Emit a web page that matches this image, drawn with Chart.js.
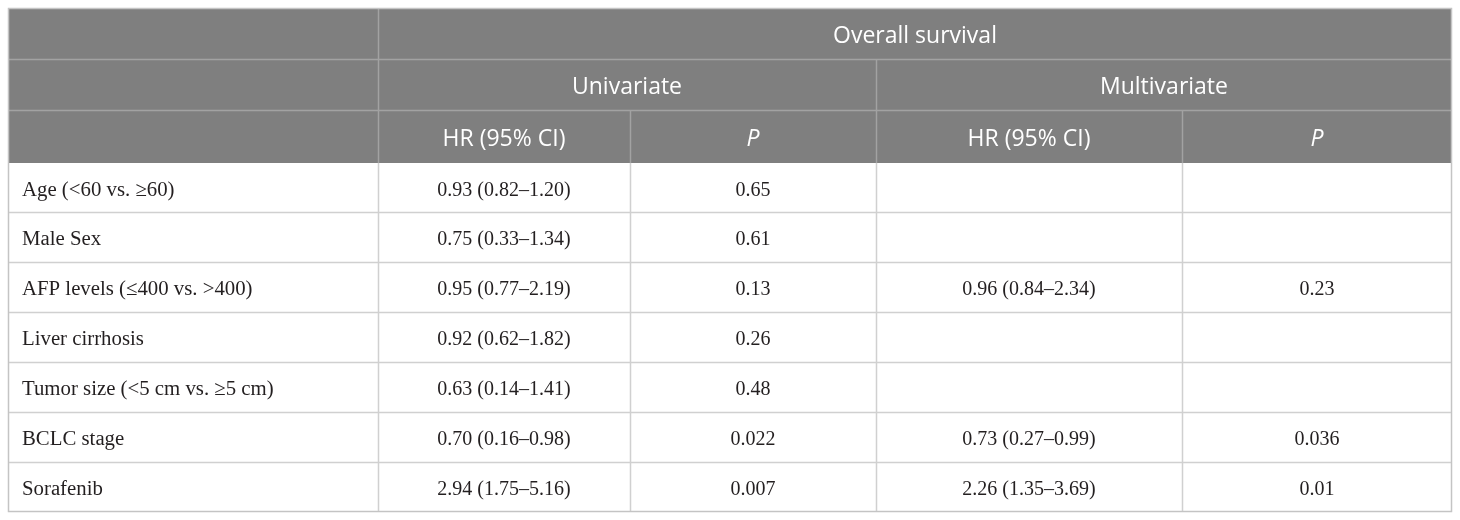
<!DOCTYPE html>
<html><head><meta charset="utf-8">
<script src="https://cdn.jsdelivr.net/npm/chart.js@4.4.1/dist/chart.umd.min.js"></script>
<style>html,body{margin:0;padding:0;background:#fff;}canvas{display:block}</style>
</head>
<body>
<canvas id="c" width="1460" height="520"></canvas>
<script>
// ---- data ----
const categories = ["Age (<60 vs. \u226560)", "Male Sex", "AFP levels (\u2264400 vs. >400)", "Liver cirrhosis", "Tumor size (<5 cm vs. \u22655 cm)", "BCLC stage", "Sorafenib"];
const uniHR  = [0.93, 0.75, 0.95, 0.92, 0.63, 0.70, 2.94];
const uniLo  = [0.82, 0.33, 0.77, 0.62, 0.14, 0.16, 1.75];
const uniHi  = [1.20, 1.34, 2.19, 1.82, 1.41, 0.98, 5.16];
const uniP   = ["0.65", "0.61", "0.13", "0.26", "0.48", "0.022", "0.007"];
const multiHR = [null, null, 0.96, null, null, 0.73, 2.26];
const multiLo = [null, null, 0.84, null, null, 0.27, 1.35];
const multiHi = [null, null, 2.34, null, null, 0.99, 3.69];
const multiP  = [null, null, "0.23", null, null, "0.036", "0.01"];
const headerTop = "Overall survival";
const headerGroups = ["Univariate", "Multivariate"];
const headerCols = ["HR (95% CI)", "P", "HR (95% CI)", "P"];

function fmtHR(h, lo, hi) {
  if (h === null) return "";
  return h.toFixed(2) + " (" + lo.toFixed(2) + "\u2013" + hi.toFixed(2) + ")";
}

// ---- layout (table geometry in scale units) ----
const colEdges = [0, 370, 622, 868, 1174, 1444];
const rowEdges = [0, 51, 102, 155, 204, 254, 304, 354, 404, 454, 504];

const tablePlugin = {
  id: 'tablePlugin',
  afterDraw(chart) {
    const ctx = chart.ctx;
    const xs = chart.scales.x, ys = chart.scales.y;
    const X = v => xs.getPixelForValue(v);
    const Y = v => ys.getPixelForValue(v);
    ctx.save();
    // header background
    ctx.fillStyle = '#7f7f7f';
    ctx.fillRect(X(0), Y(0), X(1444) - X(0), Y(rowEdges[3]) - Y(0));

    function hline(y, x0, x1, color, w) {
      ctx.strokeStyle = color; ctx.lineWidth = w;
      ctx.beginPath(); ctx.moveTo(X(x0), Math.round(Y(y)) + 0.5); ctx.lineTo(X(x1), Math.round(Y(y)) + 0.5); ctx.stroke();
    }
    function vline(x, y0, y1, color, w) {
      ctx.strokeStyle = color; ctx.lineWidth = w;
      ctx.beginPath(); ctx.moveTo(Math.round(X(x)) + 0.5, Y(y0)); ctx.lineTo(Math.round(X(x)) + 0.5, Y(y1)); ctx.stroke();
    }
    const hc = '#a2a2a2', bc = '#d0d0d0';
    // header lines
    hline(rowEdges[1], 0, 1444, hc, 1.5);
    hline(rowEdges[2], 0, 1444, hc, 1.5);
    vline(colEdges[1], rowEdges[0], rowEdges[3], hc, 1.5);
    vline(colEdges[3], rowEdges[1], rowEdges[3], hc, 1.5);
    vline(colEdges[2], rowEdges[2], rowEdges[3], hc, 1.5);
    vline(colEdges[4], rowEdges[2], rowEdges[3], hc, 1.5);
    // body lines
    for (let r = 4; r < rowEdges.length - 1; r++) hline(rowEdges[r], 0, 1444, bc, 1.5);
    for (let c = 1; c < colEdges.length - 1; c++) vline(colEdges[c], rowEdges[3], rowEdges[rowEdges.length - 1], bc, 1.5);
    // outer border
    ctx.strokeStyle = '#c4c4c4'; ctx.lineWidth = 1.5;
    ctx.strokeRect(Math.round(X(0)) + 0.5, Math.round(Y(0)) + 0.5, Math.round(X(1444) - X(0)) - 1, Math.round(Y(504) - Y(0)) - 1);

    // header text
    const hFont = '23px "Open Sans"';
    const hFontI = 'italic 23px "Open Sans"';
    const hOff = 9.3;
    ctx.fillStyle = '#ffffff';
    ctx.textAlign = 'center'; ctx.textBaseline = 'alphabetic';
    const rc = r => (Y(rowEdges[r]) + Y(rowEdges[r + 1])) / 2;
    const cc = (a, b) => (X(colEdges[a]) + X(colEdges[b])) / 2;
    ctx.font = hFont;
    ctx.fillText(headerTop, cc(1, 5), rc(0) + hOff);
    ctx.fillText(headerGroups[0], cc(1, 3), rc(1) + hOff);
    ctx.fillText(headerGroups[1], cc(3, 5), rc(1) + hOff);
    headerCols.forEach((t, i) => {
      ctx.font = (t === 'P') ? hFontI : hFont;
      ctx.fillText(t, cc(i + 1, i + 2), rc(2) + hOff);
    });

    // body text
    ctx.fillStyle = '#231f20';
    const bOff = 8.2;
    categories.forEach((cat, i) => {
      const yc = rc(i + 3) + bOff;
      ctx.font = '20.8px "Liberation Serif"';
      ctx.textAlign = 'left';
      ctx.fillText(cat, X(0) + 14, yc);
      ctx.font = '20px "Liberation Serif"';
      ctx.textAlign = 'center';
      ctx.fillText(fmtHR(uniHR[i], uniLo[i], uniHi[i]), cc(1, 2), yc);
      ctx.fillText(uniP[i], cc(2, 3), yc);
      ctx.fillText(fmtHR(multiHR[i], multiLo[i], multiHi[i]), cc(3, 4), yc);
      if (multiP[i] !== null) ctx.fillText(multiP[i], cc(4, 5), yc);
    });
    ctx.restore();
  }
};

new Chart(document.getElementById('c'), {
  type: 'scatter',
  data: { datasets: [{ data: [], pointRadius: 0 }] },
  options: {
    responsive: false,
    animation: false,
    events: [],
    layout: { padding: { left: 8, top: 8, right: 8, bottom: 8 } },
    plugins: { legend: { display: false }, tooltip: { enabled: false } },
    scales: {
      x: { type: 'linear', min: 0, max: 1444, display: false },
      y: { type: 'linear', min: 0, max: 504, reverse: true, display: false }
    }
  },
  plugins: [tablePlugin]
});
</script>
</body></html>
